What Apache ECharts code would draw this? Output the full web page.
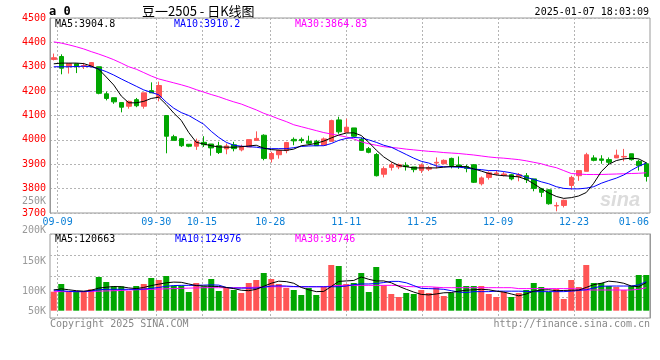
<!DOCTYPE html>
<html>
<head>
<meta charset="utf-8">
<script src="https://cdn.jsdelivr.net/npm/echarts@6/dist/echarts.min.js"></script>
<style>
html,body{margin:0;padding:0;background:#fff;}
#chart{width:660px;height:360px;}
</style>
</head>
<body>
<div id="chart"></div>
<script>
// ---------- data ----------
const dates = ['09-06','09-09','09-10','09-11','09-12','09-13','09-18','09-19','09-20','09-23',
'09-24','09-25','09-26','09-27','09-30','10-08','10-09','10-10','10-11','10-14',
'10-15','10-16','10-17','10-18','10-21','10-22','10-23','10-24','10-25','10-28',
'10-29','10-30','10-31','11-01','11-04','11-05','11-06','11-07','11-08','11-11',
'11-12','11-13','11-14','11-15','11-18','11-19','11-20','11-21','11-22','11-25',
'11-26','11-27','11-28','11-29','12-02','12-03','12-04','12-05','12-06','12-09',
'12-10','12-11','12-12','12-13','12-16','12-17','12-18','12-19','12-20','12-23',
'12-24','12-25','12-26','12-27','12-30','12-31','01-02','01-03','01-06','01-07'];
const tickLabels = ['09-09','09-30','10-15','10-28','11-11','11-25','12-09','12-23','01-06'];

const opens = [4330,4342,4302,4312,4303,4302,4300,4189,4173,4153,
4138,4165,4138,4202,4175,4100,4013,4005,3982,3974,
3990,3983,3976,3963,3980,3959,3971,3998,4019,3922,
3939,3956,4002,4002,3994,3994,3978,3994,4082,4031,
4049,4002,3964,3940,3859,3887,3889,3895,3889,3875,
3880,3905,3902,3924,3897,3891,3898,3820,3846,3860,
3855,3857,3850,3853,3840,3799,3795,3729,3731,3813,
3853,3871,3926,3922,3919,3926,3930,3943,3912,3902];
const closes = [4337,4294,4313,4302,4305,4317,4191,4170,4156,4134,
4158,4140,4193,4193,4223,4015,3998,3976,3974,3994,
3980,3967,3948,3975,3964,3971,4001,4006,3924,3944,
3956,3989,3996,3997,3986,3976,4004,4079,4033,4052,
4015,3957,3949,3853,3882,3898,3898,3890,3878,3897,
3886,3908,3916,3895,3892,3883,3826,3844,3865,3864,
3860,3840,3857,3837,3801,3785,3738,3731,3752,3846,
3874,3939,3916,3916,3908,3937,3932,3919,3894,3850];
const lows = [4326,4269,4272,4274,4291,4297,4187,4162,4148,4113,
4128,4134,4128,4193,4158,3945,3998,3971,3970,3959,
3971,3935,3942,3941,3953,3953,3971,3996,3916,3907,
3923,3945,3978,3987,3980,3976,3978,3994,4025,4031,
4012,3956,3945,3850,3846,3874,3880,3874,3867,3864,
3872,3883,3902,3883,3881,3867,3823,3813,3837,3854,
3850,3834,3830,3823,3789,3766,3734,3707,3723,3796,
3832,3871,3912,3902,3898,3926,3912,3915,3874,3829];
const highs = [4354,4351,4313,4312,4316,4319,4300,4198,4173,4153,
4161,4172,4193,4236,4239,4100,4021,4008,3982,4005,
4015,3983,3992,3985,3992,3980,4001,4035,4023,3951,
3960,3992,4010,4010,4017,4000,4010,4083,4095,4087,
4049,4010,3971,3946,3891,3908,3903,3908,3889,3903,
3893,3928,3920,3927,3932,3898,3901,3850,3871,3875,
3868,3861,3864,3864,3840,3803,3797,3744,3755,3853,
3874,3947,3937,3937,3928,3960,3963,3943,3919,3908];

const ma5 = [4312,4315,4315,4315,4313,4303,4290,4258,4225,4180,
4152,4152,4158,4170,4175,4145,4110,4080,4030,3990,
3983,3976,3971,3970,3970,3972,3975,3978,3966,3960,
3958,3957,3962,3976,3980,3986,3995,4008,4020,4028,
4029,4018,3990,3958,3930,3910,3895,3890,3885,3885,
3885,3885,3888,3891,3891,3890,3881,3872,3862,3856,
3853,3851,3848,3838,3820,3800,3782,3768,3760,3763,
3770,3784,3822,3870,3900,3915,3922,3925,3922,3906];
const ma10 = [4300,4300,4300,4301,4302,4300,4291,4280,4266,4250,
4235,4220,4205,4195,4185,4155,4130,4112,4100,4082,
4064,4035,4010,3990,3978,3974,3972,3970,3965,3964,
3964,3964,3968,3973,3975,3976,3976,3985,3998,4006,
4010,4008,4000,3990,3978,3970,3955,3940,3925,3912,
3905,3893,3890,3889,3888,3885,3880,3878,3874,3874,
3870,3865,3858,3846,3838,3828,3820,3808,3801,3799,
3799,3802,3808,3822,3833,3843,3856,3875,3892,3905];
const ma30 = [4402,4397,4390,4382,4373,4362,4352,4341,4329,4315,
4300,4290,4276,4262,4250,4242,4234,4226,4217,4206,
4196,4186,4177,4166,4156,4147,4135,4123,4109,4098,
4086,4075,4062,4054,4046,4038,4030,4024,4018,4012,
4004,3992,3984,3978,3972,3969,3966,3962,3959,3956,
3953,3951,3948,3946,3944,3941,3938,3934,3930,3927,
3925,3922,3919,3914,3908,3902,3893,3886,3874,3862,
3860,3858,3858,3858,3859,3860,3861,3862,3863,3865];

const volumes = [81700,114800,81700,84700,81700,92000,144900,123400,104900,104900,
84700,106200,114800,140600,132000,149200,107500,107500,80400,119100,
104900,136300,84700,98900,89000,76100,119100,132000,162100,136300,
114800,97600,89000,67500,97600,67500,101900,196500,192200,114800,
119100,162100,80400,187900,109200,71800,58900,76100,71800,89000,
76100,100600,63200,76100,136300,106200,106200,106200,71800,58900,
80400,58900,76100,89000,119100,101900,80400,93300,50300,132000,
101900,196500,119100,119100,106200,101900,89000,106200,153500,153500];
const volMa5 = [89000,94000,90000,86000,84000,88000,97000,101000,104000,103000,
98000,95000,100000,108000,114000,120000,123000,122000,115000,108000,
106000,105000,104000,100000,95000,88000,86000,92000,105000,118000,
127000,125000,118000,100000,90000,82000,83000,104000,126000,128000,
130000,145000,135000,128000,128000,120000,105000,92000,80000,70000,
68000,72000,77000,78000,84000,88000,90000,92000,90000,84000,
80000,72000,64000,72000,84000,89000,90000,86000,87000,88000,
89000,100000,112000,118000,127000,124000,118000,106000,103000,120663];
const volMa10 = [89000,86000,83000,82000,82000,85000,90000,92000,92000,92000,
92000,92000,93000,96000,100000,105000,108000,109000,109000,109000,
110000,111000,110000,100000,97000,97000,97000,97000,101000,106000,
107000,106000,104000,103000,103000,103000,103000,103000,103000,106000,
112000,115000,115000,117000,121000,126000,126000,120000,108000,96000,
95000,94000,92000,86000,80000,78000,82000,82000,82000,84000,
84000,84000,84000,83000,82000,82000,82000,82000,82000,84000,
87000,90000,98000,105000,106000,106000,106000,106000,111000,124976];
const volMa30 = [82000,82000,82000,82000,82000,83000,84000,85000,86000,87000,
89000,90000,91000,92000,93000,94000,95000,96000,97000,98000,
99000,99000,99000,99000,99000,99000,100000,101000,102000,103000,
103000,103000,103000,103000,103000,103000,103000,106000,109000,109000,
109000,109000,109000,109000,109000,109000,108000,104000,103000,103000,
103000,101000,99000,99000,99000,99000,99000,99000,99000,99000,
99000,99000,95000,95000,95000,95000,95000,95000,95000,95000,
93000,89000,89000,89000,89000,89000,89000,89000,92000,98746];

const volAxisLabels = ['250K','200K','150K','100K','50K'];

// ---------- styles ----------
const RED = '#ff5555', GREEN = '#00a600';
const MONO = "'DejaVu Sans Mono', monospace";
const GRIDC = '#b4b4b4';
const isUp = i => closes[i] >= opens[i];

const chart = echarts.init(document.getElementById('chart'), null, {renderer: 'canvas'});

const tickAxis = (grid, showLabel) => ({
  type: 'category', gridIndex: grid, data: dates, boundaryGap: false, position: 'bottom',
  axisLine: {show: false}, axisTick: {show: false},
  axisLabel: {
    show: showLabel, interval: (i, v) => tickLabels.includes(v),
    color: '#0a7fd6', fontFamily: MONO, fontSize: 10, margin: 4,
    formatter: v => v === '01-06' ? '{r|' + v + '}' : v,
    rich: {r: {padding: [0, 17, 0, 0], color: '#0a7fd6', fontFamily: MONO, fontSize: 10}}
  },
  splitLine: {show: true, interval: (i, v) => tickLabels.includes(v) && v !== '01-06',
    lineStyle: {color: GRIDC, type: [2, 2], width: 1}}
});
const bandAxis = grid => ({
  type: 'category', gridIndex: grid, data: dates, boundaryGap: true, position: 'bottom',
  axisLine: {show: false}, axisTick: {show: false}, axisLabel: {show: false}, splitLine: {show: false}
});

const vlabPos = [201, 230, 261, 291, 311];
const graphics = [];
const txt = (t, x, y, fill, opt = {}) => graphics.push({
  type: 'text', silent: true, z: 100,
  style: Object.assign({text: t, x: x, y: y, fill: fill, font: '10px ' + MONO,
    textAlign: 'left', align: 'left', textVerticalAlign: 'middle', verticalAlign: 'middle'}, opt)
});
txt('a 0', 49, 12, '#000', {font: 'bold 12px ' + MONO});
txt('豆一2505 - 日K线图', 142, 11, '#000', {font: "13px 'Noto Sans CJK SC', sans-serif"});
txt('2025-01-07 18:03:09', 649, 12, '#000', {textAlign: 'right', align: 'right'});
txt('MA5:3904.8', 55, 24, '#000');
txt('MA10:3910.2', 174, 24, '#0000ff');
txt('MA30:3864.83', 295, 24, '#ff00ff');
txt('MA5:120663', 55, 239, '#000');
txt('MA10:124976', 175, 239, '#0000ff');
txt('MA30:98746', 295, 239, '#ff00ff');
volAxisLabels.forEach((t, k) => txt(t, 46, vlabPos[k], '#999', {textAlign: 'right', align: 'right'}));
txt('Copyright 2025 SINA.COM', 50, 324, '#888');
txt('http://finance.sina.com.cn', 650, 324, '#888', {textAlign: 'right', align: 'right'});
txt('sina', 600, 200, '#dcdcdc', {font: 'italic bold 20px sans-serif'});

const option = {
  animation: false,
  backgroundColor: '#fff',
  grid: [
    {left: 50, top: 18, width: 600, height: 195, show: true, borderColor: '#999', borderWidth: 1},
    {left: 50, top: 234, width: 600, height: 84, show: true, borderColor: '#999', borderWidth: 1}
  ],
  xAxis: [bandAxis(0), tickAxis(0, true), bandAxis(1), tickAxis(1, false)],
  yAxis: [
    {type: 'value', gridIndex: 0, min: 3700, max: 4500, interval: 100,
      axisLine: {show: true, lineStyle: {color: '#999'}}, axisTick: {show: false},
      axisLabel: {color: '#f00', fontFamily: MONO, fontSize: 10, margin: 4, formatter: v => String(v)},
      splitLine: {show: true, lineStyle: {color: GRIDC, type: [2, 2]}}},
    {type: 'value', gridIndex: 1, min: -31400, max: 329800,
      axisLine: {show: false}, axisTick: {show: false}, axisLabel: {show: false}, splitLine: {show: false}},
    {type: 'value', gridIndex: 1, min: 0, max: 4, interval: 1,
      axisLine: {show: true, lineStyle: {color: '#999'}}, axisTick: {show: false}, axisLabel: {show: false},
      splitLine: {show: true, lineStyle: {color: GRIDC, type: [2, 2]}}}
  ],
  series: [
    {type: 'candlestick', xAxisIndex: 0, yAxisIndex: 0, barWidth: 5,
      data: dates.map((d, i) => [opens[i], closes[i], lows[i], highs[i]]),
      itemStyle: {color: RED, color0: GREEN, borderColor: RED, borderColor0: GREEN, borderWidth: 1}},
    {type: 'line', xAxisIndex: 0, yAxisIndex: 0, data: ma30, symbol: 'none', lineStyle: {color: '#ff00ff', width: 1}, z: 3},
    {type: 'line', xAxisIndex: 0, yAxisIndex: 0, data: ma10, symbol: 'none', lineStyle: {color: '#0000ff', width: 1}, z: 4},
    {type: 'line', xAxisIndex: 0, yAxisIndex: 0, data: ma5, symbol: 'none', lineStyle: {color: '#000', width: 1}, z: 5},
    {type: 'bar', xAxisIndex: 2, yAxisIndex: 1, data: volumes, barWidth: 6,
      itemStyle: {color: p => isUp(p.dataIndex) ? RED : GREEN}},
    {type: 'line', xAxisIndex: 2, yAxisIndex: 1, data: volMa30, symbol: 'none', lineStyle: {color: '#ff00ff', width: 1}, z: 3},
    {type: 'line', xAxisIndex: 2, yAxisIndex: 1, data: volMa10, symbol: 'none', lineStyle: {color: '#0000ff', width: 1}, z: 4},
    {type: 'line', xAxisIndex: 2, yAxisIndex: 1, data: volMa5, symbol: 'none', lineStyle: {color: '#000', width: 1}, z: 5}
  ],
  graphic: graphics
};
chart.setOption(option);
</script>
</body>
</html>
